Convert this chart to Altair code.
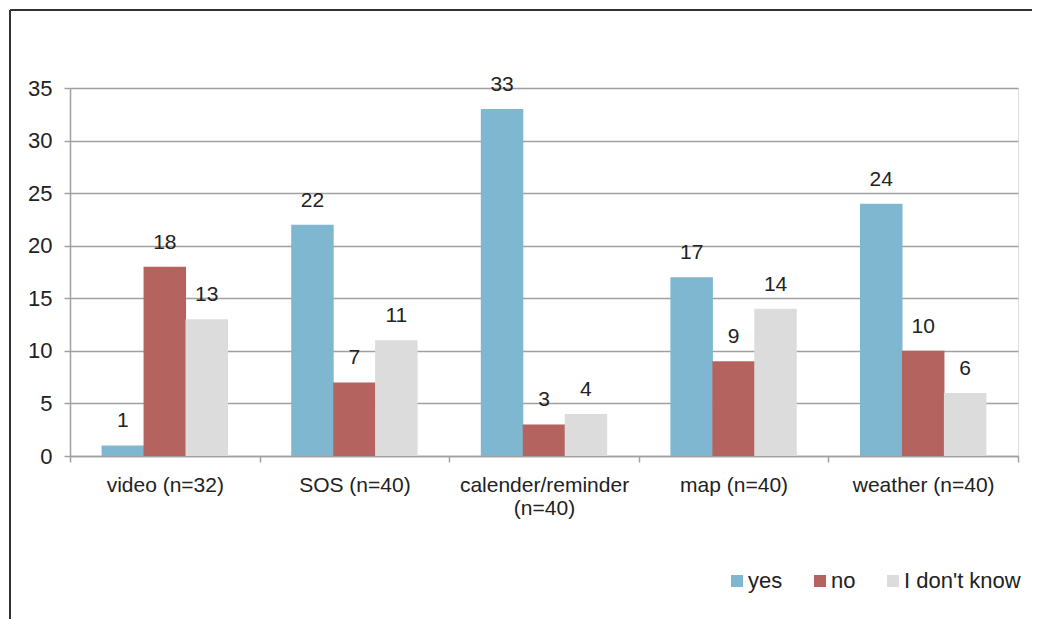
import altair as alt
import pandas as pd

categories = ["video (n=32)", "SOS (n=40)", "calender/reminder|(n=40)", "map (n=40)", "weather (n=40)"]
responses = ["yes", "no", "I don't know"]
yes_vals = [1, 22, 33, 17, 24]
no_vals = [18, 7, 3, 9, 10]
idk_vals = [13, 11, 4, 14, 6]
colors = ["#7EB7CF", "#B5635F", "#DCDCDC"]

rows = []
for i, c in enumerate(categories):
    for r, vals in zip(responses, [yes_vals, no_vals, idk_vals]):
        rows.append({"category": c, "response": r, "value": vals[i]})
df = pd.DataFrame(rows)

W, H = 948, 368
FONT = "Liberation Sans"

x = alt.X("category:N", sort=categories, title=None,
          scale=alt.Scale(paddingInner=0, paddingOuter=0),
          axis=alt.Axis(labelExpr="isValid(datum.value) ? split(datum.value, '|') : ''",
                        labelAngle=0,
                        labelFontSize=21, labelColor="#222", labelFont=FONT,
                        labelPadding=12, labelLineHeight=23, labelBaseline="top",
                        domainColor="#A0A0A0", tickColor="#A0A0A0",
                        tickBand="extent", tickSize=6, domainWidth=1.5, tickWidth=1.5))
xo = alt.XOffset("response:N", sort=responses,
                 scale=alt.Scale(paddingInner=0, paddingOuter=0.76))
y = alt.Y("value:Q", title=None,
          scale=alt.Scale(domain=[0, 35], nice=False),
          axis=alt.Axis(values=list(range(0, 36, 5)), labelFontSize=22,
                        labelColor="#222", labelFont=FONT, labelPadding=12,
                        domainColor="#A0A0A0", tickColor="#A0A0A0", tickSize=6,
                        gridColor="#A0A0A0", gridWidth=1.5, domainWidth=1.5, tickWidth=1.5))

color = alt.Color("response:N", sort=responses,
                  scale=alt.Scale(domain=responses, range=colors),
                  legend=alt.Legend(title=None, orient="none", direction="horizontal",
                                    legendX=656, legendY=482,
                                    symbolType="square", symbolSize=144,
                                    symbolStrokeWidth=0, symbolOpacity=1,
                                    labelFontSize=22, labelFont=FONT, labelColor="#222",
                                    columnPadding=26, labelOffset=0, labelLimit=300))

bars = alt.Chart(df).mark_bar(size=42.5, opacity=1).encode(x=x, xOffset=xo, y=y, color=color)
labels = alt.Chart(df).mark_text(baseline="alphabetic", dy=-18, fontSize=21, font=FONT,
                                 color="#222").encode(
    x=alt.X("category:N", sort=categories), xOffset=alt.XOffset("response:N", sort=responses),
    y="value:Q", text="value:Q")

frame_top = alt.Chart(df).mark_rule(color="#333", strokeWidth=1.5).encode(
    x=alt.value(-60), x2=alt.value(1010), y=alt.value(-78))
frame_left = alt.Chart(df).mark_rule(color="#333", strokeWidth=1.5).encode(
    x=alt.value(-60), y=alt.value(-78), y2=alt.value(540))

chart = alt.layer(frame_top, frame_left, bars, labels).properties(
    width=W, height=H,
    padding={"left": 62, "top": 80, "right": 14, "bottom": 163},
    autosize=alt.AutoSizeParams(type="none"),
).configure_view(stroke=None).configure(background="white")

chart.save("out.html", embed_options={"renderer": "svg", "actions": False})
